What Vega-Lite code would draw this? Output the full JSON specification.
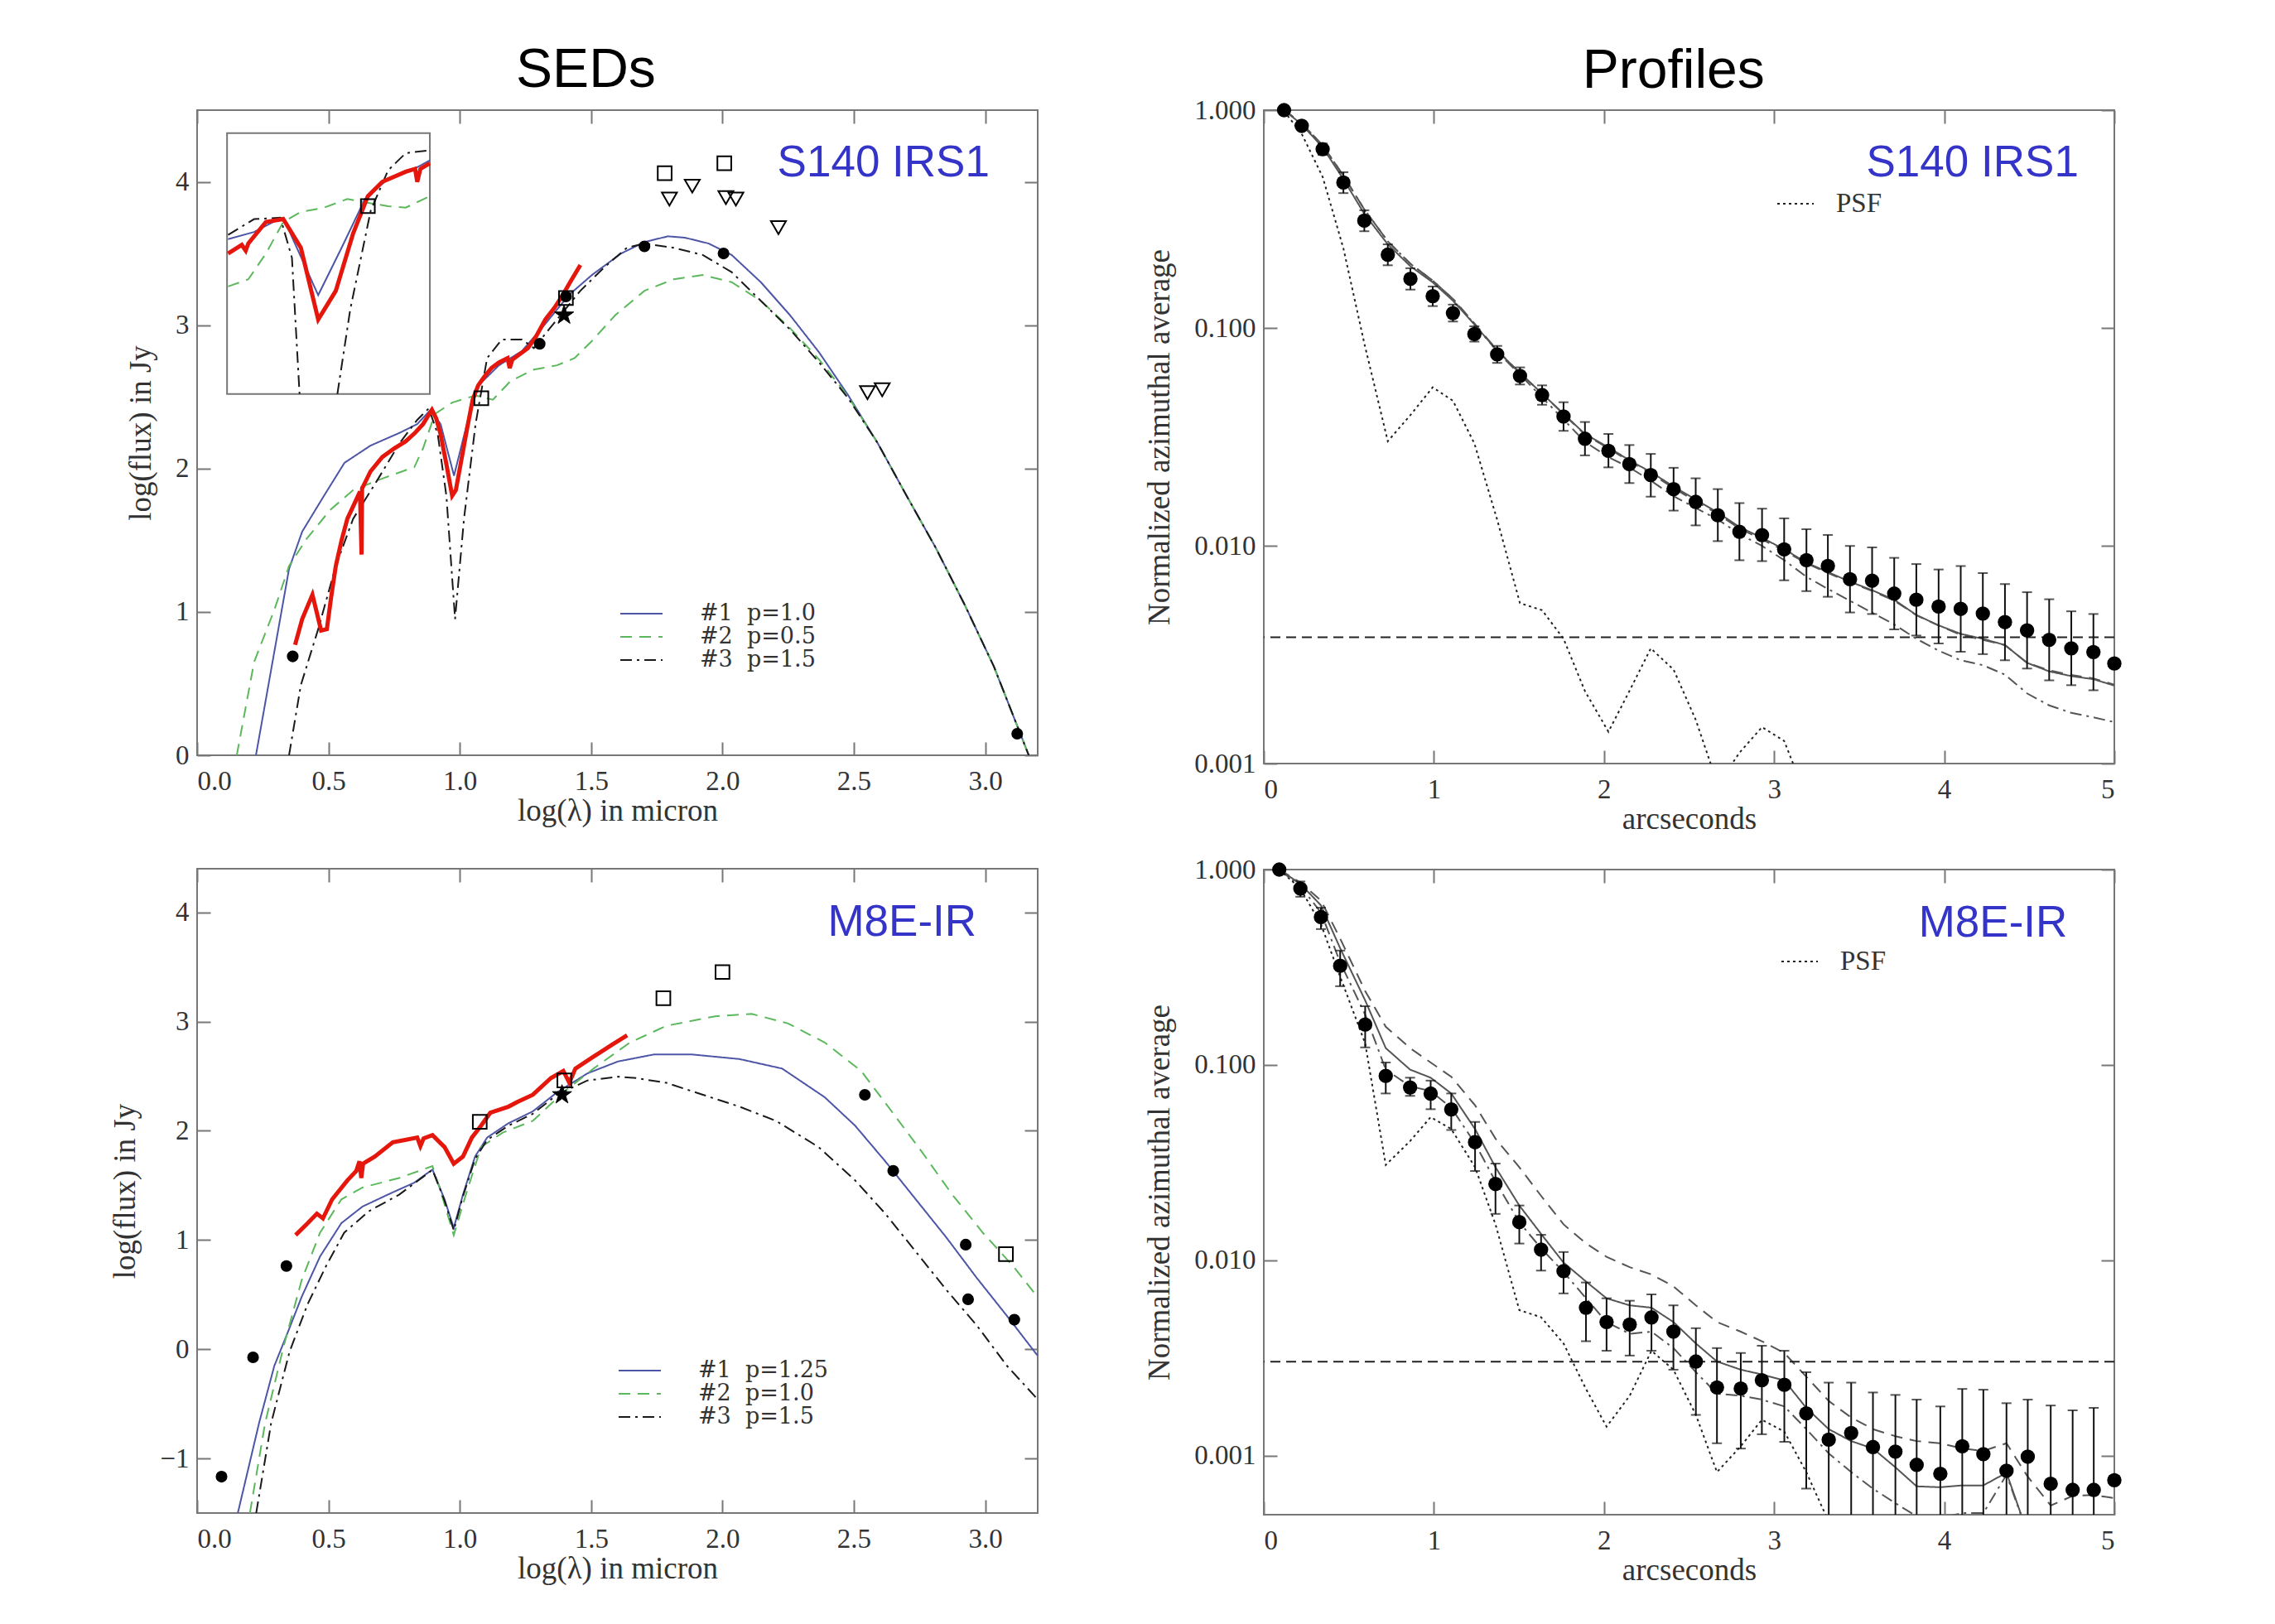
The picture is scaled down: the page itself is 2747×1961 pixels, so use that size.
{
"$schema": "https://vega.github.io/schema/vega-lite/v6.json",
"background": "white",
"padding": {"left": 131, "top": 52, "right": 193, "bottom": 50},
"config": {
  "view": {"stroke": "#777", "strokeWidth": 2},
  "axis": {"grid": false, "domain": false, "labelFont": "Liberation Serif", "titleFont": "Liberation Serif", "labelFontSize": 33, "titleFontSize": 37, "labelColor": "#333", "titleColor": "#333", "titleFontWeight": "normal", "tickColor": "#777", "tickWidth": 2, "tickSize": -16},
  "axisX": {"labelPadding": 31, "titlePadding": 1},
  "axisY": {"labelPadding": 26, "titlePadding": 22}
},
"datasets": {
  "tl_models": [
    {"x":0.224,"y":0,"model":"#1\u00a0\u00a0p=1.0"},{"x":0.35,"y":1.3,"model":"#1\u00a0\u00a0p=1.0"},{"x":0.4,"y":1.56,"model":"#1\u00a0\u00a0p=1.0"},{"x":0.483,"y":1.81,"model":"#1\u00a0\u00a0p=1.0"},{"x":0.561,"y":2.04,"model":"#1\u00a0\u00a0p=1.0"},{"x":0.66,"y":2.16,"model":"#1\u00a0\u00a0p=1.0"},{"x":0.772,"y":2.25,"model":"#1\u00a0\u00a0p=1.0"},{"x":0.838,"y":2.31,"model":"#1\u00a0\u00a0p=1.0"},{"x":0.889,"y":2.41,"model":"#1\u00a0\u00a0p=1.0"},{"x":0.927,"y":2.31,"model":"#1\u00a0\u00a0p=1.0"},{"x":0.978,"y":1.95,"model":"#1\u00a0\u00a0p=1.0"},{"x":1.027,"y":2.31,"model":"#1\u00a0\u00a0p=1.0"},{"x":1.071,"y":2.58,"model":"#1\u00a0\u00a0p=1.0"},{"x":1.149,"y":2.72,"model":"#1\u00a0\u00a0p=1.0"},{"x":1.237,"y":2.82,"model":"#1\u00a0\u00a0p=1.0"},{"x":1.326,"y":3.01,"model":"#1\u00a0\u00a0p=1.0"},{"x":1.415,"y":3.21,"model":"#1\u00a0\u00a0p=1.0"},{"x":1.503,"y":3.35,"model":"#1\u00a0\u00a0p=1.0"},{"x":1.614,"y":3.5,"model":"#1\u00a0\u00a0p=1.0"},{"x":1.703,"y":3.58,"model":"#1\u00a0\u00a0p=1.0"},{"x":1.792,"y":3.62,"model":"#1\u00a0\u00a0p=1.0"},{"x":1.858,"y":3.61,"model":"#1\u00a0\u00a0p=1.0"},{"x":1.947,"y":3.57,"model":"#1\u00a0\u00a0p=1.0"},{"x":2.035,"y":3.49,"model":"#1\u00a0\u00a0p=1.0"},{"x":2.146,"y":3.3,"model":"#1\u00a0\u00a0p=1.0"},{"x":2.257,"y":3.07,"model":"#1\u00a0\u00a0p=1.0"},{"x":2.368,"y":2.81,"model":"#1\u00a0\u00a0p=1.0"},{"x":2.479,"y":2.51,"model":"#1\u00a0\u00a0p=1.0"},{"x":2.59,"y":2.18,"model":"#1\u00a0\u00a0p=1.0"},{"x":2.701,"y":1.81,"model":"#1\u00a0\u00a0p=1.0"},{"x":2.811,"y":1.45,"model":"#1\u00a0\u00a0p=1.0"},{"x":2.922,"y":1.05,"model":"#1\u00a0\u00a0p=1.0"},{"x":3.033,"y":0.62,"model":"#1\u00a0\u00a0p=1.0"},{"x":3.166,"y":0,"model":"#1\u00a0\u00a0p=1.0"},
    {"x":0.151,"y":0,"model":"#2\u00a0\u00a0p=0.5"},{"x":0.217,"y":0.65,"model":"#2\u00a0\u00a0p=0.5"},{"x":0.295,"y":1.02,"model":"#2\u00a0\u00a0p=0.5"},{"x":0.35,"y":1.32,"model":"#2\u00a0\u00a0p=0.5"},{"x":0.417,"y":1.51,"model":"#2\u00a0\u00a0p=0.5"},{"x":0.506,"y":1.71,"model":"#2\u00a0\u00a0p=0.5"},{"x":0.594,"y":1.85,"model":"#2\u00a0\u00a0p=0.5"},{"x":0.705,"y":1.93,"model":"#2\u00a0\u00a0p=0.5"},{"x":0.827,"y":2.01,"model":"#2\u00a0\u00a0p=0.5"},{"x":0.86,"y":2.14,"model":"#2\u00a0\u00a0p=0.5"},{"x":0.905,"y":2.38,"model":"#2\u00a0\u00a0p=0.5"},{"x":0.971,"y":2.46,"model":"#2\u00a0\u00a0p=0.5"},{"x":1.06,"y":2.51,"model":"#2\u00a0\u00a0p=0.5"},{"x":1.126,"y":2.48,"model":"#2\u00a0\u00a0p=0.5"},{"x":1.193,"y":2.61,"model":"#2\u00a0\u00a0p=0.5"},{"x":1.282,"y":2.69,"model":"#2\u00a0\u00a0p=0.5"},{"x":1.37,"y":2.72,"model":"#2\u00a0\u00a0p=0.5"},{"x":1.437,"y":2.77,"model":"#2\u00a0\u00a0p=0.5"},{"x":1.503,"y":2.89,"model":"#2\u00a0\u00a0p=0.5"},{"x":1.592,"y":3.07,"model":"#2\u00a0\u00a0p=0.5"},{"x":1.703,"y":3.24,"model":"#2\u00a0\u00a0p=0.5"},{"x":1.814,"y":3.32,"model":"#2\u00a0\u00a0p=0.5"},{"x":1.925,"y":3.35,"model":"#2\u00a0\u00a0p=0.5"},{"x":2.035,"y":3.3,"model":"#2\u00a0\u00a0p=0.5"},{"x":2.146,"y":3.17,"model":"#2\u00a0\u00a0p=0.5"},{"x":2.257,"y":2.98,"model":"#2\u00a0\u00a0p=0.5"},{"x":2.368,"y":2.76,"model":"#2\u00a0\u00a0p=0.5"},{"x":2.479,"y":2.5,"model":"#2\u00a0\u00a0p=0.5"},{"x":2.59,"y":2.18,"model":"#2\u00a0\u00a0p=0.5"},{"x":2.701,"y":1.81,"model":"#2\u00a0\u00a0p=0.5"},{"x":2.811,"y":1.45,"model":"#2\u00a0\u00a0p=0.5"},{"x":2.922,"y":1.05,"model":"#2\u00a0\u00a0p=0.5"},{"x":3.033,"y":0.62,"model":"#2\u00a0\u00a0p=0.5"},{"x":3.166,"y":0,"model":"#2\u00a0\u00a0p=0.5"},
    {"x":0.35,"y":0,"model":"#3\u00a0\u00a0p=1.5"},{"x":0.395,"y":0.49,"model":"#3\u00a0\u00a0p=1.5"},{"x":0.461,"y":0.88,"model":"#3\u00a0\u00a0p=1.5"},{"x":0.528,"y":1.32,"model":"#3\u00a0\u00a0p=1.5"},{"x":0.594,"y":1.65,"model":"#3\u00a0\u00a0p=1.5"},{"x":0.683,"y":1.91,"model":"#3\u00a0\u00a0p=1.5"},{"x":0.772,"y":2.18,"model":"#3\u00a0\u00a0p=1.5"},{"x":0.838,"y":2.34,"model":"#3\u00a0\u00a0p=1.5"},{"x":0.882,"y":2.42,"model":"#3\u00a0\u00a0p=1.5"},{"x":0.916,"y":2.24,"model":"#3\u00a0\u00a0p=1.5"},{"x":0.949,"y":1.81,"model":"#3\u00a0\u00a0p=1.5"},{"x":0.982,"y":0.95,"model":"#3\u00a0\u00a0p=1.5"},{"x":1.016,"y":1.65,"model":"#3\u00a0\u00a0p=1.5"},{"x":1.06,"y":2.31,"model":"#3\u00a0\u00a0p=1.5"},{"x":1.104,"y":2.77,"model":"#3\u00a0\u00a0p=1.5"},{"x":1.16,"y":2.9,"model":"#3\u00a0\u00a0p=1.5"},{"x":1.237,"y":2.9,"model":"#3\u00a0\u00a0p=1.5"},{"x":1.282,"y":2.84,"model":"#3\u00a0\u00a0p=1.5"},{"x":1.37,"y":3.04,"model":"#3\u00a0\u00a0p=1.5"},{"x":1.459,"y":3.24,"model":"#3\u00a0\u00a0p=1.5"},{"x":1.548,"y":3.4,"model":"#3\u00a0\u00a0p=1.5"},{"x":1.636,"y":3.54,"model":"#3\u00a0\u00a0p=1.5"},{"x":1.703,"y":3.57,"model":"#3\u00a0\u00a0p=1.5"},{"x":1.814,"y":3.54,"model":"#3\u00a0\u00a0p=1.5"},{"x":1.925,"y":3.49,"model":"#3\u00a0\u00a0p=1.5"},{"x":2.035,"y":3.37,"model":"#3\u00a0\u00a0p=1.5"},{"x":2.146,"y":3.17,"model":"#3\u00a0\u00a0p=1.5"},{"x":2.257,"y":2.97,"model":"#3\u00a0\u00a0p=1.5"},{"x":2.368,"y":2.74,"model":"#3\u00a0\u00a0p=1.5"},{"x":2.479,"y":2.49,"model":"#3\u00a0\u00a0p=1.5"},{"x":2.59,"y":2.18,"model":"#3\u00a0\u00a0p=1.5"},{"x":2.701,"y":1.81,"model":"#3\u00a0\u00a0p=1.5"},{"x":2.811,"y":1.45,"model":"#3\u00a0\u00a0p=1.5"},{"x":2.922,"y":1.05,"model":"#3\u00a0\u00a0p=1.5"},{"x":3.033,"y":0.62,"model":"#3\u00a0\u00a0p=1.5"},{"x":3.166,"y":0,"model":"#3\u00a0\u00a0p=1.5"}
  ],
  "tl_red": [
    {"x":0.373,"y":0.77},{"x":0.4,"y":0.95},{"x":0.439,"y":1.12},{"x":0.455,"y":1.0},{"x":0.472,"y":0.87},{"x":0.494,"y":0.88},{"x":0.51,"y":1.1},{"x":0.528,"y":1.32},{"x":0.55,"y":1.5},{"x":0.572,"y":1.65},{"x":0.6,"y":1.76},{"x":0.62,"y":1.84},{"x":0.626,"y":1.4},{"x":0.628,"y":1.86},{"x":0.66,"y":1.98},{"x":0.705,"y":2.08},{"x":0.75,"y":2.14},{"x":0.794,"y":2.19},{"x":0.83,"y":2.25},{"x":0.86,"y":2.31},{"x":0.894,"y":2.41},{"x":0.91,"y":2.35},{"x":0.927,"y":2.24},{"x":0.95,"y":2.02},{"x":0.971,"y":1.81},{"x":0.985,"y":1.85},{"x":1.004,"y":2.04},{"x":1.03,"y":2.3},{"x":1.049,"y":2.48},{"x":1.07,"y":2.58},{"x":1.093,"y":2.64},{"x":1.12,"y":2.7},{"x":1.149,"y":2.74},{"x":1.182,"y":2.77},{"x":1.19,"y":2.7},{"x":1.2,"y":2.76},{"x":1.23,"y":2.8},{"x":1.259,"y":2.84},{"x":1.29,"y":2.92},{"x":1.326,"y":3.04},{"x":1.36,"y":3.12},{"x":1.392,"y":3.21},{"x":1.42,"y":3.3},{"x":1.459,"y":3.42}
  ],
  "tl_box": [{"x":0.114,"x2":0.886,"y":2.52,"y2":4.34}],
  "tl_inset_blue": [
    {"x":0.118,"y":3.6},{"x":0.217,"y":3.65},{"x":0.3,"y":3.73},{"x":0.328,"y":3.75},{"x":0.461,"y":3.21},{"x":0.55,"y":3.54},{"x":0.639,"y":3.88},{"x":0.727,"y":4.02},{"x":0.816,"y":4.08},{"x":0.886,"y":4.15}
  ],
  "tl_inset_green": [
    {"x":0.118,"y":3.27},{"x":0.195,"y":3.32},{"x":0.262,"y":3.5},{"x":0.328,"y":3.72},{"x":0.395,"y":3.79},{"x":0.483,"y":3.82},{"x":0.572,"y":3.88},{"x":0.661,"y":3.85},{"x":0.727,"y":3.83},{"x":0.794,"y":3.82},{"x":0.886,"y":3.9}
  ],
  "tl_inset_black": [
    {"x":0.118,"y":3.63,"seg":"a"},{"x":0.217,"y":3.74,"seg":"a"},{"x":0.317,"y":3.75,"seg":"a"},{"x":0.361,"y":3.47,"seg":"a"},{"x":0.39,"y":2.52,"seg":"a"},
    {"x":0.534,"y":2.52,"seg":"b"},{"x":0.583,"y":3.11,"seg":"b"},{"x":0.661,"y":3.8,"seg":"b"},{"x":0.727,"y":4.08,"seg":"b"},{"x":0.794,"y":4.2,"seg":"b"},{"x":0.886,"y":4.22,"seg":"b"}
  ],
  "tl_inset_red": [
    {"x":0.118,"y":3.5},{"x":0.17,"y":3.56},{"x":0.185,"y":3.52},{"x":0.195,"y":3.57},{"x":0.262,"y":3.72},{"x":0.328,"y":3.74},{"x":0.395,"y":3.54},{"x":0.461,"y":3.04},{"x":0.528,"y":3.24},{"x":0.594,"y":3.64},{"x":0.65,"y":3.9},{"x":0.705,"y":4.0},{"x":0.794,"y":4.07},{"x":0.83,"y":4.09},{"x":0.838,"y":4.0},{"x":0.85,"y":4.09},{"x":0.886,"y":4.13}
  ],
  "tl_points": [
    {"x":0.364,"y":0.69,"kind":"photometry"},{"x":1.304,"y":2.87,"kind":"photometry"},{"x":1.404,"y":3.2,"kind":"photometry"},{"x":1.703,"y":3.55,"kind":"photometry"},{"x":2.004,"y":3.5,"kind":"photometry"},{"x":3.122,"y":0.15,"kind":"photometry"},
    {"x":1.78,"y":4.06,"kind":"ISO"},{"x":2.007,"y":4.13,"kind":"ISO"},{"x":1.082,"y":2.49,"kind":"ISO"},{"x":1.404,"y":3.19,"kind":"ISO"},{"x":0.65,"y":3.83,"kind":"ISO"},
    {"x":1.798,"y":3.88,"kind":"upper limit"},{"x":1.885,"y":3.97,"kind":"upper limit"},{"x":2.013,"y":3.89,"kind":"upper limit"},{"x":2.051,"y":3.88,"kind":"upper limit"},{"x":2.213,"y":3.68,"kind":"upper limit"},{"x":2.552,"y":2.53,"kind":"upper limit"},{"x":2.608,"y":2.55,"kind":"upper limit"},
    {"x":1.397,"y":3.07,"kind":"this work"}
  ],
  "bl_models": [
    {"x":0.155,"y":-1.5,"model":"#1\u00a0\u00a0p=1.25"},{"x":0.236,"y":-0.675,"model":"#1\u00a0\u00a0p=1.25"},{"x":0.294,"y":-0.152,"model":"#1\u00a0\u00a0p=1.25"},{"x":0.352,"y":0.196,"model":"#1\u00a0\u00a0p=1.25"},{"x":0.398,"y":0.479,"model":"#1\u00a0\u00a0p=1.25"},{"x":0.468,"y":0.849,"model":"#1\u00a0\u00a0p=1.25"},{"x":0.549,"y":1.154,"model":"#1\u00a0\u00a0p=1.25"},{"x":0.63,"y":1.307,"model":"#1\u00a0\u00a0p=1.25"},{"x":0.745,"y":1.437,"model":"#1\u00a0\u00a0p=1.25"},{"x":0.826,"y":1.524,"model":"#1\u00a0\u00a0p=1.25"},{"x":0.896,"y":1.646,"model":"#1\u00a0\u00a0p=1.25"},{"x":0.942,"y":1.372,"model":"#1\u00a0\u00a0p=1.25"},{"x":0.977,"y":1.111,"model":"#1\u00a0\u00a0p=1.25"},{"x":1.012,"y":1.415,"model":"#1\u00a0\u00a0p=1.25"},{"x":1.058,"y":1.764,"model":"#1\u00a0\u00a0p=1.25"},{"x":1.104,"y":1.938,"model":"#1\u00a0\u00a0p=1.25"},{"x":1.185,"y":2.069,"model":"#1\u00a0\u00a0p=1.25"},{"x":1.278,"y":2.178,"model":"#1\u00a0\u00a0p=1.25"},{"x":1.37,"y":2.352,"model":"#1\u00a0\u00a0p=1.25"},{"x":1.486,"y":2.526,"model":"#1\u00a0\u00a0p=1.25"},{"x":1.602,"y":2.635,"model":"#1\u00a0\u00a0p=1.25"},{"x":1.741,"y":2.7,"model":"#1\u00a0\u00a0p=1.25"},{"x":1.88,"y":2.7,"model":"#1\u00a0\u00a0p=1.25"},{"x":2.065,"y":2.657,"model":"#1\u00a0\u00a0p=1.25"},{"x":2.227,"y":2.57,"model":"#1\u00a0\u00a0p=1.25"},{"x":2.389,"y":2.308,"model":"#1\u00a0\u00a0p=1.25"},{"x":2.505,"y":2.047,"model":"#1\u00a0\u00a0p=1.25"},{"x":2.62,"y":1.72,"model":"#1\u00a0\u00a0p=1.25"},{"x":2.736,"y":1.372,"model":"#1\u00a0\u00a0p=1.25"},{"x":2.852,"y":1.024,"model":"#1\u00a0\u00a0p=1.25"},{"x":2.968,"y":0.653,"model":"#1\u00a0\u00a0p=1.25"},{"x":3.083,"y":0.305,"model":"#1\u00a0\u00a0p=1.25"},{"x":3.199,"y":-0.057,"model":"#1\u00a0\u00a0p=1.25"},
    {"x":0.201,"y":-1.5,"model":"#2\u00a0\u00a0p=1.0"},{"x":0.259,"y":-0.675,"model":"#2\u00a0\u00a0p=1.0"},{"x":0.329,"y":0.022,"model":"#2\u00a0\u00a0p=1.0"},{"x":0.398,"y":0.632,"model":"#2\u00a0\u00a0p=1.0"},{"x":0.468,"y":1.067,"model":"#2\u00a0\u00a0p=1.0"},{"x":0.549,"y":1.372,"model":"#2\u00a0\u00a0p=1.0"},{"x":0.63,"y":1.481,"model":"#2\u00a0\u00a0p=1.0"},{"x":0.769,"y":1.568,"model":"#2\u00a0\u00a0p=1.0"},{"x":0.896,"y":1.677,"model":"#2\u00a0\u00a0p=1.0"},{"x":0.931,"y":1.415,"model":"#2\u00a0\u00a0p=1.0"},{"x":0.977,"y":1.045,"model":"#2\u00a0\u00a0p=1.0"},{"x":1.023,"y":1.415,"model":"#2\u00a0\u00a0p=1.0"},{"x":1.081,"y":1.851,"model":"#2\u00a0\u00a0p=1.0"},{"x":1.162,"y":1.982,"model":"#2\u00a0\u00a0p=1.0"},{"x":1.278,"y":2.091,"model":"#2\u00a0\u00a0p=1.0"},{"x":1.394,"y":2.352,"model":"#2\u00a0\u00a0p=1.0"},{"x":1.509,"y":2.57,"model":"#2\u00a0\u00a0p=1.0"},{"x":1.648,"y":2.809,"model":"#2\u00a0\u00a0p=1.0"},{"x":1.787,"y":2.962,"model":"#2\u00a0\u00a0p=1.0"},{"x":1.972,"y":3.049,"model":"#2\u00a0\u00a0p=1.0"},{"x":2.111,"y":3.071,"model":"#2\u00a0\u00a0p=1.0"},{"x":2.25,"y":2.983,"model":"#2\u00a0\u00a0p=1.0"},{"x":2.389,"y":2.809,"model":"#2\u00a0\u00a0p=1.0"},{"x":2.528,"y":2.548,"model":"#2\u00a0\u00a0p=1.0"},{"x":2.644,"y":2.178,"model":"#2\u00a0\u00a0p=1.0"},{"x":2.759,"y":1.807,"model":"#2\u00a0\u00a0p=1.0"},{"x":2.875,"y":1.415,"model":"#2\u00a0\u00a0p=1.0"},{"x":2.991,"y":1.067,"model":"#2\u00a0\u00a0p=1.0"},{"x":3.106,"y":0.762,"model":"#2\u00a0\u00a0p=1.0"},{"x":3.199,"y":0.479,"model":"#2\u00a0\u00a0p=1.0"},
    {"x":0.225,"y":-1.5,"model":"#3\u00a0\u00a0p=1.5"},{"x":0.282,"y":-0.675,"model":"#3\u00a0\u00a0p=1.5"},{"x":0.352,"y":-0.022,"model":"#3\u00a0\u00a0p=1.5"},{"x":0.421,"y":0.414,"model":"#3\u00a0\u00a0p=1.5"},{"x":0.491,"y":0.762,"model":"#3\u00a0\u00a0p=1.5"},{"x":0.56,"y":1.067,"model":"#3\u00a0\u00a0p=1.5"},{"x":0.653,"y":1.263,"model":"#3\u00a0\u00a0p=1.5"},{"x":0.769,"y":1.415,"model":"#3\u00a0\u00a0p=1.5"},{"x":0.896,"y":1.642,"model":"#3\u00a0\u00a0p=1.5"},{"x":0.942,"y":1.36,"model":"#3\u00a0\u00a0p=1.5"},{"x":0.977,"y":1.089,"model":"#3\u00a0\u00a0p=1.5"},{"x":1.012,"y":1.4,"model":"#3\u00a0\u00a0p=1.5"},{"x":1.058,"y":1.742,"model":"#3\u00a0\u00a0p=1.5"},{"x":1.104,"y":1.916,"model":"#3\u00a0\u00a0p=1.5"},{"x":1.185,"y":2.047,"model":"#3\u00a0\u00a0p=1.5"},{"x":1.278,"y":2.156,"model":"#3\u00a0\u00a0p=1.5"},{"x":1.37,"y":2.33,"model":"#3\u00a0\u00a0p=1.5"},{"x":1.486,"y":2.461,"model":"#3\u00a0\u00a0p=1.5"},{"x":1.602,"y":2.496,"model":"#3\u00a0\u00a0p=1.5"},{"x":1.671,"y":2.483,"model":"#3\u00a0\u00a0p=1.5"},{"x":1.787,"y":2.439,"model":"#3\u00a0\u00a0p=1.5"},{"x":1.926,"y":2.33,"model":"#3\u00a0\u00a0p=1.5"},{"x":2.065,"y":2.221,"model":"#3\u00a0\u00a0p=1.5"},{"x":2.204,"y":2.091,"model":"#3\u00a0\u00a0p=1.5"},{"x":2.366,"y":1.851,"model":"#3\u00a0\u00a0p=1.5"},{"x":2.505,"y":1.546,"model":"#3\u00a0\u00a0p=1.5"},{"x":2.62,"y":1.241,"model":"#3\u00a0\u00a0p=1.5"},{"x":2.736,"y":0.893,"model":"#3\u00a0\u00a0p=1.5"},{"x":2.852,"y":0.544,"model":"#3\u00a0\u00a0p=1.5"},{"x":2.968,"y":0.218,"model":"#3\u00a0\u00a0p=1.5"},{"x":3.083,"y":-0.152,"model":"#3\u00a0\u00a0p=1.5"},{"x":3.199,"y":-0.457,"model":"#3\u00a0\u00a0p=1.5"}
  ],
  "bl_red": [
    {"x":0.375,"y":1.045},{"x":0.421,"y":1.154},{"x":0.456,"y":1.241},{"x":0.479,"y":1.198},{"x":0.514,"y":1.372},{"x":0.572,"y":1.546},{"x":0.606,"y":1.633},{"x":0.618,"y":1.72},{"x":0.625,"y":1.568},{"x":0.632,"y":1.7},{"x":0.676,"y":1.764},{"x":0.745,"y":1.895},{"x":0.792,"y":1.916},{"x":0.838,"y":1.938},{"x":0.85,"y":1.86},{"x":0.862,"y":1.93},{"x":0.896,"y":1.96},{"x":0.942,"y":1.851},{"x":0.977,"y":1.699},{"x":1.012,"y":1.764},{"x":1.046,"y":1.938},{"x":1.081,"y":2.047},{"x":1.116,"y":2.165},{"x":1.185,"y":2.221},{"x":1.22,"y":2.265},{"x":1.278,"y":2.33},{"x":1.347,"y":2.483},{"x":1.394,"y":2.548},{"x":1.417,"y":2.44},{"x":1.44,"y":2.57},{"x":1.509,"y":2.679},{"x":1.579,"y":2.787},{"x":1.637,"y":2.875}
  ],
  "bl_points": [
    {"x":0.093,"y":-1.167,"kind":"photometry"},{"x":0.213,"y":-0.074,"kind":"photometry"},{"x":0.34,"y":0.762,"kind":"photometry"},{"x":2.542,"y":2.33,"kind":"photometry"},{"x":2.65,"y":1.633,"kind":"photometry"},{"x":2.926,"y":0.958,"kind":"photometry"},{"x":2.935,"y":0.457,"kind":"photometry"},{"x":3.111,"y":0.27,"kind":"photometry"},
    {"x":1.076,"y":2.082,"kind":"ISO"},{"x":1.398,"y":2.461,"kind":"ISO"},{"x":1.775,"y":3.214,"kind":"ISO"},{"x":2.0,"y":3.454,"kind":"ISO"},{"x":3.079,"y":0.871,"kind":"ISO"},
    {"x":1.389,"y":2.33,"kind":"this work"}
  ],
  "tr": [
    {"x":0.119,"obs":1.0,"solid":1.0,"dashed":1.0,"dashdot":1.0,"PSF":0.99},
    {"x":0.223,"obs":0.847,"lo":0.828,"hi":0.867,"solid":0.86,"dashed":0.87,"dashdot":0.87,"PSF":0.778},
    {"x":0.346,"obs":0.662,"lo":0.623,"hi":0.703,"solid":0.675,"dashed":0.69,"dashdot":0.69,"PSF":0.494},
    {"x":0.468,"obs":0.465,"lo":0.416,"hi":0.519,"solid":0.482,"dashed":0.5,"dashdot":0.5,"PSF":0.232},
    {"x":0.591,"obs":0.311,"lo":0.278,"hi":0.347,"solid":0.334,"dashed":0.35,"dashdot":0.35,"PSF":0.0849},
    {"x":0.729,"obs":0.217,"lo":0.194,"hi":0.242,"solid":0.242,"dashed":0.25,"dashdot":0.25,"PSF":0.0302},
    {"x":0.862,"obs":0.168,"lo":0.15,"hi":0.188,"solid":0.192,"dashed":0.197,"dashdot":0.197,"PSF":0.0398},
    {"x":0.993,"obs":0.14,"lo":0.126,"hi":0.155,"solid":0.162,"dashed":0.165,"dashdot":0.165,"PSF":0.0534},
    {"x":1.112,"obs":0.117,"lo":0.107,"hi":0.128,"solid":0.1334,"dashed":0.136,"dashdot":0.136,"PSF":0.0463},
    {"x":1.238,"obs":0.0938,"lo":0.0865,"hi":0.1017,"solid":0.1038,"dashed":0.105,"dashdot":0.104,"PSF":0.0295},
    {"x":1.372,"obs":0.0756,"lo":0.0691,"hi":0.0827,"solid":0.0787,"dashed":0.079,"dashdot":0.078,"PSF":0.01316},
    {"x":1.506,"obs":0.0602,"lo":0.055,"hi":0.0659,"solid":0.0621,"dashed":0.062,"dashdot":0.061,"PSF":0.00545},
    {"x":1.636,"obs":0.0492,"lo":0.0444,"hi":0.0545,"solid":0.05,"dashed":0.05,"dashdot":0.048,"PSF":0.00506},
    {"x":1.762,"obs":0.0392,"lo":0.0337,"hi":0.0456,"solid":0.0403,"dashed":0.0402,"dashdot":0.038,"PSF":0.00374},
    {"x":1.888,"obs":0.031,"lo":0.026,"hi":0.037,"solid":0.0326,"dashed":0.0324,"dashdot":0.03,"PSF":0.00215},
    {"x":2.026,"obs":0.0273,"lo":0.0229,"hi":0.0326,"solid":0.0283,"dashed":0.028,"dashdot":0.0255,"PSF":0.0014},
    {"x":2.149,"obs":0.0237,"lo":0.0194,"hi":0.029,"solid":0.0247,"dashed":0.0244,"dashdot":0.0229,"PSF":0.00215},
    {"x":2.275,"obs":0.0211,"lo":0.0168,"hi":0.0264,"solid":0.0218,"dashed":0.0215,"dashdot":0.0199,"PSF":0.00338},
    {"x":2.409,"obs":0.0182,"lo":0.0145,"hi":0.0228,"solid":0.0187,"dashed":0.0184,"dashdot":0.0169,"PSF":0.0027},
    {"x":2.539,"obs":0.0159,"lo":0.0124,"hi":0.0204,"solid":0.0163,"dashed":0.016,"dashdot":0.0149,"PSF":0.00159},
    {"x":2.669,"obs":0.0138,"lo":0.0105,"hi":0.0182,"solid":0.0142,"dashed":0.014,"dashdot":0.0132,"PSF":0.0008},
    {"x":2.796,"obs":0.0116,"lo":0.00858,"hi":0.0157,"solid":0.0122,"dashed":0.012,"dashdot":0.01132,"PSF":0.00112},
    {"x":2.929,"obs":0.0112,"lo":0.0085,"hi":0.0148,"solid":0.01087,"dashed":0.0107,"dashdot":0.00998,"PSF":0.00147},
    {"x":3.059,"obs":0.00963,"lo":0.00694,"hi":0.01336,"solid":0.00964,"dashed":0.0095,"dashdot":0.00859,"PSF":0.00127},
    {"x":3.19,"obs":0.00859,"lo":0.00619,"hi":0.01191,"solid":0.00837,"dashed":0.0083,"dashdot":0.0072,"PSF":0.0007},
    {"x":3.316,"obs":0.00808,"lo":0.00583,"hi":0.01121,"solid":0.00757,"dashed":0.0075,"dashdot":0.00634},
    {"x":3.446,"obs":0.00702,"lo":0.00494,"hi":0.00998,"solid":0.00684,"dashed":0.0068,"dashdot":0.00559},
    {"x":3.576,"obs":0.00691,"lo":0.00486,"hi":0.00983,"solid":0.00625,"dashed":0.0062,"dashdot":0.00493},
    {"x":3.706,"obs":0.00603,"lo":0.00413,"hi":0.0088,"solid":0.00565,"dashed":0.0056,"dashdot":0.00435},
    {"x":3.836,"obs":0.00565,"lo":0.00387,"hi":0.00824,"solid":0.00481,"dashed":0.0048,"dashdot":0.00374},
    {"x":3.967,"obs":0.00526,"lo":0.00356,"hi":0.00778,"solid":0.00431,"dashed":0.0043,"dashdot":0.0033},
    {"x":4.097,"obs":0.00513,"lo":0.00326,"hi":0.00807,"solid":0.00394,"dashed":0.0039,"dashdot":0.00298},
    {"x":4.227,"obs":0.00488,"lo":0.00318,"hi":0.00749,"solid":0.00374,"dashed":0.0037,"dashdot":0.00283},
    {"x":4.357,"obs":0.00446,"lo":0.00298,"hi":0.00667,"solid":0.0035,"dashed":0.0035,"dashdot":0.00256},
    {"x":4.487,"obs":0.00409,"lo":0.00273,"hi":0.00612,"solid":0.0029,"dashed":0.0029,"dashdot":0.0021},
    {"x":4.617,"obs":0.0037,"lo":0.00241,"hi":0.00568,"solid":0.00265,"dashed":0.00268,"dashdot":0.00185},
    {"x":4.747,"obs":0.00338,"lo":0.00229,"hi":0.005,"solid":0.00252,"dashed":0.00255,"dashdot":0.00171},
    {"x":4.877,"obs":0.00325,"lo":0.00217,"hi":0.00486,"solid":0.00244,"dashed":0.00246,"dashdot":0.00163},
    {"x":5.0,"obs":0.00288,"solid":0.00228,"dashed":0.0023,"dashdot":0.00155}
  ],
  "tr_level": [{"level":0.0038}],
  "br": [
    {"x":0.091,"obs":1.0,"solid":1.0,"dashed":1.0,"dashdot":1.0,"PSF":1.0},
    {"x":0.215,"obs":0.799,"lo":0.726,"hi":0.869,"solid":0.845,"dashed":0.859,"dashdot":0.822,"PSF":0.799},
    {"x":0.336,"obs":0.571,"lo":0.496,"hi":0.638,"solid":0.656,"dashed":0.695,"dashdot":0.603,"PSF":0.525},
    {"x":0.449,"obs":0.322,"lo":0.253,"hi":0.385,"solid":0.396,"dashed":0.443,"dashdot":0.335,"PSF":0.283},
    {"x":0.596,"obs":0.161,"lo":0.123,"hi":0.2,"solid":0.214,"dashed":0.239,"dashdot":0.181,"PSF":0.129},
    {"x":0.717,"obs":0.0879,"lo":0.0715,"hi":0.103,"solid":0.122,"dashed":0.157,"dashdot":0.0947,"PSF":0.0308},
    {"x":0.86,"obs":0.0768,"lo":0.0695,"hi":0.0861,"solid":0.0947,"dashed":0.122,"dashdot":0.0778,"PSF":0.0408},
    {"x":0.981,"obs":0.0714,"lo":0.0594,"hi":0.0832,"solid":0.0861,"dashed":0.103,"dashdot":0.0736,"PSF":0.0541},
    {"x":1.102,"obs":0.0593,"lo":0.0465,"hi":0.0715,"solid":0.0715,"dashed":0.0871,"dashdot":0.0604,"PSF":0.047},
    {"x":1.242,"obs":0.0403,"lo":0.0287,"hi":0.0511,"solid":0.047,"dashed":0.0622,"dashdot":0.0397,"PSF":0.03},
    {"x":1.362,"obs":0.0246,"lo":0.0173,"hi":0.0313,"solid":0.03,"dashed":0.042,"dashdot":0.0254,"PSF":0.0153},
    {"x":1.502,"obs":0.0157,"lo":0.0122,"hi":0.0191,"solid":0.0191,"dashed":0.03,"dashdot":0.0157,"PSF":0.00557},
    {"x":1.63,"obs":0.01135,"lo":0.00887,"hi":0.01352,"solid":0.01367,"dashed":0.0214,"dashdot":0.01154,"PSF":0.00512},
    {"x":1.762,"obs":0.00881,"lo":0.00678,"hi":0.01104,"solid":0.00975,"dashed":0.0153,"dashdot":0.00873,"PSF":0.00376},
    {"x":1.894,"obs":0.00573,"lo":0.00386,"hi":0.00771,"solid":0.0078,"dashed":0.01222,"dashdot":0.0064,"PSF":0.0022},
    {"x":2.015,"obs":0.00484,"lo":0.00345,"hi":0.0064,"solid":0.0064,"dashed":0.01044,"dashdot":0.00484,"PSF":0.00141},
    {"x":2.151,"obs":0.0047,"lo":0.00326,"hi":0.00622,"solid":0.00589,"dashed":0.00923,"dashdot":0.00421,"PSF":0.00203},
    {"x":2.279,"obs":0.00511,"lo":0.00345,"hi":0.0067,"solid":0.00573,"dashed":0.00848,"dashdot":0.00432,"PSF":0.00345},
    {"x":2.408,"obs":0.00432,"lo":0.00276,"hi":0.00589,"solid":0.00484,"dashed":0.00737,"dashdot":0.00356,"PSF":0.00276},
    {"x":2.54,"obs":0.00304,"lo":0.00162,"hi":0.0045,"solid":0.00376,"dashed":0.00589,"dashdot":0.00268,"PSF":0.00162},
    {"x":2.664,"obs":0.00224,"lo":0.00116,"hi":0.00356,"solid":0.00304,"dashed":0.00484,"dashdot":0.00208,"PSF":0.000826},
    {"x":2.804,"obs":0.00221,"lo":0.00109,"hi":0.00336,"solid":0.00276,"dashed":0.00432,"dashdot":0.00203,"PSF":0.00112},
    {"x":2.928,"obs":0.00244,"lo":0.00129,"hi":0.00366,"solid":0.00261,"dashed":0.00386,"dashdot":0.00194,"PSF":0.00153},
    {"x":3.06,"obs":0.00231,"lo":0.00118,"hi":0.00345,"solid":0.00243,"dashed":0.00336,"dashdot":0.00179,"PSF":0.00133},
    {"x":3.189,"obs":0.00165,"lo":0.00068,"hi":0.00268,"solid":0.00176,"dashed":0.00254,"dashdot":0.00137,"PSF":0.000826},
    {"x":3.321,"obs":0.00121,"lo":0.0003,"hi":0.00237,"solid":0.00137,"dashed":0.00191,"dashdot":0.00103,"PSF":0.00046},
    {"x":3.453,"obs":0.00131,"lo":0.0003,"hi":0.00237,"solid":0.00119,"dashed":0.00157,"dashdot":0.000826},
    {"x":3.581,"obs":0.00111,"lo":0.0003,"hi":0.00211,"solid":0.00109,"dashed":0.00137,"dashdot":0.000679},
    {"x":3.713,"obs":0.00105,"lo":0.0003,"hi":0.00205,"solid":0.000874,"dashed":0.00126,"dashdot":0.000573},
    {"x":3.838,"obs":0.0009,"lo":0.0003,"hi":0.00194,"solid":0.000698,"dashed":0.00119,"dashdot":0.00049},
    {"x":3.977,"obs":0.00081,"lo":0.0003,"hi":0.00179,"solid":0.000691,"dashed":0.00116,"dashdot":0.00048},
    {"x":4.106,"obs":0.00112,"lo":0.0003,"hi":0.0022,"solid":0.000706,"dashed":0.00109,"dashdot":0.00051},
    {"x":4.23,"obs":0.00102,"lo":0.0003,"hi":0.00218,"solid":0.000706,"dashed":0.00106,"dashdot":0.00051},
    {"x":4.366,"obs":0.00084,"lo":0.0003,"hi":0.00186,"solid":0.00082,"dashed":0.00116,"dashdot":0.0008},
    {"x":4.491,"obs":0.00099,"lo":0.0003,"hi":0.00194,"solid":0.0004,"dashed":0.000782,"dashdot":0.0004},
    {"x":4.626,"obs":0.00072,"lo":0.0003,"hi":0.00181,"dashed":0.000557},
    {"x":4.755,"obs":0.00067,"lo":0.0003,"hi":0.00171,"dashed":0.000624},
    {"x":4.879,"obs":0.00067,"lo":0.0003,"hi":0.00176,"dashed":0.000631},
    {"x":5.0,"obs":0.00075,"dashed":0.000607}
  ],
  "br_level": [{"level":0.00303}]
},
"resolve": {"scale": {"color": "independent", "strokeDash": "independent"}, "legend": {"color": "independent", "strokeDash": "independent"}},
"spacing": 125,
"hconcat": [
  {
    "title": {"text": "SEDs", "fontSize": 66, "font": "Liberation Sans", "fontWeight": "normal", "color": "black", "anchor": "middle", "baseline": "alphabetic", "offset": -40, "dx": 14},
    "resolve": {"scale": {"color": "independent", "strokeDash": "independent"}, "legend": {"color": "independent", "strokeDash": "independent"}},
    "spacing": 49,
    "vconcat": [
      {
        "width": 1015, "height": 779,
        "resolve": {"axis": {"x": "independent", "y": "independent"}},
        "layer": [
          {"data": {"name": "tl_models"}, "mark": {"type": "line", "strokeWidth": 2, "clip": true},
           "encoding": {
             "x": {"field": "x", "type": "quantitative", "scale": {"domain": [0, 3.2], "nice": false, "zero": false}, "axis": {"orient": "bottom", "values": [0, 0.5, 1, 1.5, 2, 2.5, 3], "format": ".1f", "title": "log(λ) in micron"}},
             "y": {"field": "y", "type": "quantitative", "scale": {"domain": [0, 4.5], "nice": false, "zero": false}, "axis": {"orient": "left", "values": [0, 1, 2, 3, 4], "format": "d", "title": "log(flux) in Jy"}},
             "color": {"field": "model", "type": "nominal", "scale": {"domain": ["#1\u00a0\u00a0p=1.0", "#2\u00a0\u00a0p=0.5", "#3\u00a0\u00a0p=1.5"], "range": ["#4d56a6", "#5cb85c", "#1a1a1a"]},
               "legend": {"orient": "none", "legendX": 510, "legendY": 594, "title": null, "symbolType": "stroke", "symbolSize": 2600, "symbolStrokeWidth": 2, "labelFont": "DejaVu Serif", "labelFontSize": 27, "labelColor": "#333", "labelOffset": 44, "rowPadding": 0, "clipHeight": 28, "padding": 0}},
             "strokeDash": {"field": "model", "type": "nominal", "scale": {"domain": ["#1\u00a0\u00a0p=1.0", "#2\u00a0\u00a0p=0.5", "#3\u00a0\u00a0p=1.5"], "range": [[1, 0], [14, 9], [14, 6, 3, 6]]},
               "legend": {"orient": "none", "legendX": 510, "legendY": 594, "title": null, "symbolType": "stroke", "symbolSize": 2600, "symbolStrokeWidth": 2, "labelFont": "DejaVu Serif", "labelFontSize": 27, "labelColor": "#333", "labelOffset": 44, "rowPadding": 0, "clipHeight": 28, "padding": 0}}
           }},
          {"data": {"name": "tl_red"}, "mark": {"type": "line", "color": "#e5160c", "strokeWidth": 5, "clip": true},
           "encoding": {"x": {"field": "x", "type": "quantitative", "axis": null}, "y": {"field": "y", "type": "quantitative", "axis": null}}},
          {"data": {"name": "tl_box"}, "mark": {"type": "rect", "fill": "white", "stroke": "#777", "strokeWidth": 2},
           "encoding": {"x": {"field": "x", "type": "quantitative", "axis": null}, "x2": {"field": "x2"}, "y": {"field": "y", "type": "quantitative", "axis": null}, "y2": {"field": "y2"}}},
          {"data": {"name": "tl_inset_green"}, "mark": {"type": "line", "strokeWidth": 2, "color": "#5cb85c", "strokeDash": [14, 9]},
           "encoding": {"x": {"field": "x", "type": "quantitative", "axis": null}, "y": {"field": "y", "type": "quantitative", "axis": null}}},
          {"data": {"name": "tl_inset_black"}, "mark": {"type": "line", "strokeWidth": 2, "color": "#1a1a1a", "strokeDash": [14, 6, 3, 6]},
           "encoding": {"x": {"field": "x", "type": "quantitative", "axis": null}, "y": {"field": "y", "type": "quantitative", "axis": null}, "detail": {"field": "seg"}}},
          {"data": {"name": "tl_inset_blue"}, "mark": {"type": "line", "strokeWidth": 2, "color": "#4d56a6"},
           "encoding": {"x": {"field": "x", "type": "quantitative", "axis": null}, "y": {"field": "y", "type": "quantitative", "axis": null}}},
          {"data": {"name": "tl_inset_red"}, "mark": {"type": "line", "strokeWidth": 5, "color": "#e5160c"},
           "encoding": {"x": {"field": "x", "type": "quantitative", "axis": null}, "y": {"field": "y", "type": "quantitative", "axis": null}}},
          {"data": {"name": "tl_points"}, "transform": [{"filter": "datum.kind === 'ISO'"}], "mark": {"type": "point", "shape": "square", "size": 280, "stroke": "black", "strokeWidth": 2, "fill": "transparent", "opacity": 1},
           "encoding": {"x": {"field": "x", "type": "quantitative", "axis": null}, "y": {"field": "y", "type": "quantitative", "axis": null}}},
          {"data": {"name": "tl_points"}, "transform": [{"filter": "datum.kind === 'upper limit'"}], "mark": {"type": "point", "shape": "triangle-down", "size": 330, "stroke": "black", "strokeWidth": 2, "fill": "transparent", "opacity": 1},
           "encoding": {"x": {"field": "x", "type": "quantitative", "axis": null}, "y": {"field": "y", "type": "quantitative", "axis": null}}},
          {"data": {"name": "tl_points"}, "transform": [{"filter": "datum.kind === 'this work'"}], "mark": {"type": "point", "shape": "M0,-1L0.2245,-0.309L0.951,-0.309L0.363,0.118L0.588,0.809L0,0.382L-0.588,0.809L-0.363,0.118L-0.951,-0.309L-0.2245,-0.309Z", "size": 600, "fill": "black", "stroke": "black", "strokeWidth": 1, "opacity": 1},
           "encoding": {"x": {"field": "x", "type": "quantitative", "axis": null}, "y": {"field": "y", "type": "quantitative", "axis": null}}},
          {"data": {"values": [{"label": "S140 IRS1"}]}, "mark": {"type": "text", "align": "right", "baseline": "alphabetic", "fontSize": 53, "font": "Liberation Sans", "color": "#3434c8"},
           "encoding": {"text": {"field": "label"}, "x": {"datum": 3.017, "type": "quantitative", "axis": null}, "y": {"datum": 4.04, "type": "quantitative", "axis": null}}},
          {"data": {"name": "tl_points"}, "transform": [{"filter": "datum.kind === 'photometry'"}], "mark": {"type": "circle", "size": 200, "color": "black", "opacity": 1},
           "encoding": {"x": {"field": "x", "type": "quantitative", "axis": {"orient": "top", "values": [0, 0.5, 1, 1.5, 2, 2.5, 3], "labels": false, "title": null}}, "y": {"field": "y", "type": "quantitative", "axis": {"orient": "right", "values": [0, 1, 2, 3, 4], "labels": false, "title": null}}}}
        ]
      },
      {
        "width": 1015, "height": 778,
        "resolve": {"axis": {"x": "independent", "y": "independent"}},
        "layer": [
          {"data": {"name": "bl_models"}, "mark": {"type": "line", "strokeWidth": 2, "clip": true},
           "encoding": {
             "x": {"field": "x", "type": "quantitative", "scale": {"domain": [0, 3.2], "nice": false, "zero": false}, "axis": {"orient": "bottom", "values": [0, 0.5, 1, 1.5, 2, 2.5, 3], "format": ".1f", "title": "log(λ) in micron"}},
             "y": {"field": "y", "type": "quantitative", "scale": {"domain": [-1.5, 4.4], "nice": false, "zero": false}, "axis": {"orient": "left", "values": [-1, 0, 1, 2, 3, 4], "format": "d", "title": "log(flux) in Jy"}},
             "color": {"field": "model", "type": "nominal", "scale": {"domain": ["#1\u00a0\u00a0p=1.25", "#2\u00a0\u00a0p=1.0", "#3\u00a0\u00a0p=1.5"], "range": ["#4d56a6", "#5cb85c", "#1a1a1a"]},
               "legend": {"orient": "none", "legendX": 508, "legendY": 592, "title": null, "symbolType": "stroke", "symbolSize": 2600, "symbolStrokeWidth": 2, "labelFont": "DejaVu Serif", "labelFontSize": 27, "labelColor": "#333", "labelOffset": 44, "rowPadding": 0, "clipHeight": 28, "padding": 0}},
             "strokeDash": {"field": "model", "type": "nominal", "scale": {"domain": ["#1\u00a0\u00a0p=1.25", "#2\u00a0\u00a0p=1.0", "#3\u00a0\u00a0p=1.5"], "range": [[1, 0], [14, 9], [14, 6, 3, 6]]},
               "legend": {"orient": "none", "legendX": 508, "legendY": 592, "title": null, "symbolType": "stroke", "symbolSize": 2600, "symbolStrokeWidth": 2, "labelFont": "DejaVu Serif", "labelFontSize": 27, "labelColor": "#333", "labelOffset": 44, "rowPadding": 0, "clipHeight": 28, "padding": 0}}
           }},
          {"data": {"name": "bl_red"}, "mark": {"type": "line", "color": "#e5160c", "strokeWidth": 5, "clip": true},
           "encoding": {"x": {"field": "x", "type": "quantitative", "axis": null}, "y": {"field": "y", "type": "quantitative", "axis": null}}},
          {"data": {"name": "bl_points"}, "transform": [{"filter": "datum.kind === 'ISO'"}], "mark": {"type": "point", "shape": "square", "size": 280, "stroke": "black", "strokeWidth": 2, "fill": "transparent", "opacity": 1},
           "encoding": {"x": {"field": "x", "type": "quantitative", "axis": null}, "y": {"field": "y", "type": "quantitative", "axis": null}}},
          {"data": {"name": "bl_points"}, "transform": [{"filter": "datum.kind === 'this work'"}], "mark": {"type": "point", "shape": "M0,-1L0.2245,-0.309L0.951,-0.309L0.363,0.118L0.588,0.809L0,0.382L-0.588,0.809L-0.363,0.118L-0.951,-0.309L-0.2245,-0.309Z", "size": 600, "fill": "black", "stroke": "black", "strokeWidth": 1, "opacity": 1},
           "encoding": {"x": {"field": "x", "type": "quantitative", "axis": null}, "y": {"field": "y", "type": "quantitative", "axis": null}}},
          {"data": {"values": [{"label": "M8E-IR"}]}, "mark": {"type": "text", "align": "right", "baseline": "alphabetic", "fontSize": 53, "font": "Liberation Sans", "color": "#3434c8"},
           "encoding": {"text": {"field": "label"}, "x": {"datum": 2.967, "type": "quantitative", "axis": null}, "y": {"datum": 3.786, "type": "quantitative", "axis": null}}},
          {"data": {"name": "bl_points"}, "transform": [{"filter": "datum.kind === 'photometry'"}], "mark": {"type": "circle", "size": 200, "color": "black", "opacity": 1},
           "encoding": {"x": {"field": "x", "type": "quantitative", "axis": {"orient": "top", "values": [0, 0.5, 1, 1.5, 2, 2.5, 3], "labels": false, "title": null}}, "y": {"field": "y", "type": "quantitative", "axis": {"orient": "right", "values": [-1, 0, 1, 2, 3, 4], "labels": false, "title": null}}}}
        ]
      }
    ]
  },
  {
    "title": {"text": "Profiles", "fontSize": 66, "font": "Liberation Sans", "fontWeight": "normal", "color": "black", "anchor": "middle", "baseline": "alphabetic", "offset": -56, "dx": 49},
    "resolve": {"scale": {"color": "independent", "strokeDash": "independent"}, "legend": {"color": "independent", "strokeDash": "independent"}},
    "spacing": 25,
    "vconcat": [
      {
        "width": 1027, "height": 789,
        "resolve": {"axis": {"x": "independent", "y": "independent"}},
        "layer": [
          {"data": {"name": "tr"}, "transform": [{"fold": ["solid", "dashed", "dashdot", "PSF"], "as": ["model", "value"]}, {"filter": "isValid(datum.value)"}],
           "mark": {"type": "line", "strokeWidth": 2, "clip": true},
           "encoding": {
             "x": {"field": "x", "type": "quantitative", "scale": {"domain": [0, 5], "nice": false, "zero": false}, "axis": {"orient": "bottom", "values": [0, 1, 2, 3, 4, 5], "format": "d", "title": "arcseconds"}},
             "y": {"field": "value", "type": "quantitative", "scale": {"type": "log", "domain": [0.001, 1], "nice": false}, "axis": {"orient": "left", "values": [0.001, 0.01, 0.1, 1], "format": ".3f", "title": "Normalized azimuthal average"}},
             "color": {"field": "model", "type": "nominal", "scale": {"domain": ["solid", "dashed", "dashdot", "PSF"], "range": ["#555", "#555", "#555", "#222"]},
               "legend": {"orient": "none", "legendX": 619, "legendY": 90, "title": null, "values": ["PSF"], "symbolType": "stroke", "symbolSize": 1936, "symbolStrokeWidth": 2, "labelFont": "Liberation Serif", "labelFontSize": 33, "labelColor": "#333", "labelOffset": 26, "padding": 0}},
             "strokeDash": {"field": "model", "type": "nominal", "scale": {"domain": ["solid", "dashed", "dashdot", "PSF"], "range": [[1, 0], [14, 9], [14, 6, 3, 6], [3, 4]]},
               "legend": {"orient": "none", "legendX": 619, "legendY": 90, "title": null, "values": ["PSF"], "symbolType": "stroke", "symbolSize": 1936, "symbolStrokeWidth": 2, "labelFont": "Liberation Serif", "labelFontSize": 33, "labelColor": "#333", "labelOffset": 26, "padding": 0}}
           }},
          {"data": {"name": "tr_level"}, "mark": {"type": "rule", "color": "#222", "strokeWidth": 2, "strokeDash": [12, 7]},
           "encoding": {"y": {"field": "level", "type": "quantitative", "axis": null}}},
          {"data": {"name": "tr"}, "transform": [{"filter": "isValid(datum.lo)"}], "mark": {"type": "errorbar", "ticks": true, "size": 12, "thickness": 2, "color": "#111", "clip": true},
           "encoding": {"x": {"field": "x", "type": "quantitative", "axis": null}, "y": {"field": "lo", "type": "quantitative", "axis": null}, "y2": {"field": "hi"}}},
          {"data": {"values": [{"label": "S140 IRS1"}]}, "mark": {"type": "text", "align": "right", "baseline": "alphabetic", "fontSize": 53, "font": "Liberation Sans", "color": "#3434c8"},
           "encoding": {"text": {"field": "label"}, "x": {"datum": 4.79, "type": "quantitative", "axis": null}, "y": {"datum": 0.4966, "type": "quantitative", "axis": null}}},
          {"data": {"name": "tr"}, "mark": {"type": "circle", "size": 300, "color": "black", "opacity": 1},
           "encoding": {"x": {"field": "x", "type": "quantitative", "axis": {"orient": "top", "values": [0, 1, 2, 3, 4, 5], "labels": false, "title": null}}, "y": {"field": "obs", "type": "quantitative", "axis": {"orient": "right", "values": [0.001, 0.01, 0.1, 1], "labels": false, "title": null}}}}
        ]
      },
      {
        "width": 1027, "height": 779,
        "resolve": {"axis": {"x": "independent", "y": "independent"}},
        "layer": [
          {"data": {"name": "br"}, "transform": [{"fold": ["solid", "dashed", "dashdot", "PSF"], "as": ["model", "value"]}, {"filter": "isValid(datum.value)"}],
           "mark": {"type": "line", "strokeWidth": 2, "clip": true},
           "encoding": {
             "x": {"field": "x", "type": "quantitative", "scale": {"domain": [0, 5], "nice": false, "zero": false}, "axis": {"orient": "bottom", "values": [0, 1, 2, 3, 4, 5], "format": "d", "title": "arcseconds"}},
             "y": {"field": "value", "type": "quantitative", "scale": {"type": "log", "domain": [0.0005, 1], "nice": false}, "axis": {"orient": "left", "values": [0.001, 0.01, 0.1, 1], "format": ".3f", "title": "Normalized azimuthal average"}},
             "color": {"field": "model", "type": "nominal", "scale": {"domain": ["solid", "dashed", "dashdot", "PSF"], "range": ["#555", "#555", "#555", "#222"]},
               "legend": {"orient": "none", "legendX": 624, "legendY": 88, "title": null, "values": ["PSF"], "symbolType": "stroke", "symbolSize": 1936, "symbolStrokeWidth": 2, "labelFont": "Liberation Serif", "labelFontSize": 33, "labelColor": "#333", "labelOffset": 26, "padding": 0}},
             "strokeDash": {"field": "model", "type": "nominal", "scale": {"domain": ["solid", "dashed", "dashdot", "PSF"], "range": [[1, 0], [14, 9], [14, 6, 3, 6], [3, 4]]},
               "legend": {"orient": "none", "legendX": 624, "legendY": 88, "title": null, "values": ["PSF"], "symbolType": "stroke", "symbolSize": 1936, "symbolStrokeWidth": 2, "labelFont": "Liberation Serif", "labelFontSize": 33, "labelColor": "#333", "labelOffset": 26, "padding": 0}}
           }},
          {"data": {"name": "br_level"}, "mark": {"type": "rule", "color": "#222", "strokeWidth": 2, "strokeDash": [12, 7]},
           "encoding": {"y": {"field": "level", "type": "quantitative", "axis": null}}},
          {"data": {"name": "br"}, "transform": [{"filter": "isValid(datum.lo)"}], "mark": {"type": "errorbar", "ticks": true, "size": 12, "thickness": 2, "color": "#111", "clip": true},
           "encoding": {"x": {"field": "x", "type": "quantitative", "axis": null}, "y": {"field": "lo", "type": "quantitative", "axis": null}, "y2": {"field": "hi"}}},
          {"data": {"values": [{"label": "M8E-IR"}]}, "mark": {"type": "text", "align": "right", "baseline": "alphabetic", "fontSize": 53, "font": "Liberation Sans", "color": "#3434c8"},
           "encoding": {"text": {"field": "label"}, "x": {"datum": 4.724, "type": "quantitative", "axis": null}, "y": {"datum": 0.454, "type": "quantitative", "axis": null}}},
          {"data": {"name": "br"}, "mark": {"type": "circle", "size": 300, "color": "black", "opacity": 1},
           "encoding": {"x": {"field": "x", "type": "quantitative", "axis": {"orient": "top", "values": [0, 1, 2, 3, 4, 5], "labels": false, "title": null}}, "y": {"field": "obs", "type": "quantitative", "axis": {"orient": "right", "values": [0.001, 0.01, 0.1, 1], "labels": false, "title": null}}}}
        ]
      }
    ]
  }
]
}
